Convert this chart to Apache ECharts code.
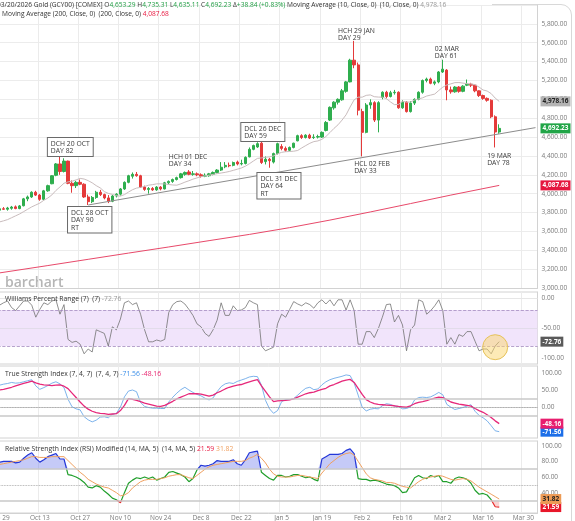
<!DOCTYPE html>
<html>
<head>
<meta charset="utf-8">
<title>Gold (GCY00) daily</title>
<script src="https://cdn.jsdelivr.net/npm/echarts@6/dist/echarts.min.js"></script>
<style>
html, body {margin: 0; padding: 0; background: #fff;}
#chart {width: 575px; height: 521px;}
</style>
</head>
<body>
<div id="chart"></div>
<script>
/* Trading days on the axis (weekdays, the last ones are still empty). */
var dates = [
    '2025-09-29','2025-09-30','2025-10-01','2025-10-02','2025-10-03',
    '2025-10-06','2025-10-07','2025-10-08','2025-10-09','2025-10-10',
    '2025-10-13','2025-10-14','2025-10-15','2025-10-16','2025-10-17',
    '2025-10-20','2025-10-21','2025-10-22','2025-10-23','2025-10-24',
    '2025-10-27','2025-10-28','2025-10-29','2025-10-30','2025-10-31',
    '2025-11-03','2025-11-04','2025-11-05','2025-11-06','2025-11-07',
    '2025-11-10','2025-11-11','2025-11-12','2025-11-13','2025-11-14',
    '2025-11-17','2025-11-18','2025-11-19','2025-11-20','2025-11-21',
    '2025-11-24','2025-11-25','2025-11-26','2025-11-27','2025-11-28',
    '2025-12-01','2025-12-02','2025-12-03','2025-12-04','2025-12-05',
    '2025-12-08','2025-12-09','2025-12-10','2025-12-11','2025-12-12',
    '2025-12-15','2025-12-16','2025-12-17','2025-12-18','2025-12-19',
    '2025-12-22','2025-12-23','2025-12-24','2025-12-25','2025-12-26',
    '2025-12-29','2025-12-30','2025-12-31','2026-01-01','2026-01-02',
    '2026-01-05','2026-01-06','2026-01-07','2026-01-08','2026-01-09',
    '2026-01-12','2026-01-13','2026-01-14','2026-01-15','2026-01-16',
    '2026-01-19','2026-01-20','2026-01-21','2026-01-22','2026-01-23',
    '2026-01-26','2026-01-27','2026-01-28','2026-01-29','2026-01-30',
    '2026-02-02','2026-02-03','2026-02-04','2026-02-05','2026-02-06',
    '2026-02-09','2026-02-10','2026-02-11','2026-02-12','2026-02-13',
    '2026-02-16','2026-02-17','2026-02-18','2026-02-19','2026-02-20',
    '2026-02-23','2026-02-24','2026-02-25','2026-02-26','2026-02-27',
    '2026-03-02','2026-03-03','2026-03-04','2026-03-05','2026-03-06',
    '2026-03-09','2026-03-10','2026-03-11','2026-03-12','2026-03-13',
    '2026-03-16','2026-03-17','2026-03-18','2026-03-19','2026-03-20',
    '2026-03-23','2026-03-24','2026-03-25','2026-03-26','2026-03-27',
    '2026-03-30','2026-03-31','2026-04-01','2026-04-02'
];
var tickDates = ['2025-09-29','2025-10-13','2025-10-27','2025-11-10','2025-11-24','2025-12-08','2025-12-22',
                 '2026-01-05','2026-01-19','2026-02-02','2026-02-16','2026-03-02','2026-03-16','2026-03-30'];

var opens = [
    3825,3840,
    3835,3845,3860,3842,3872,3945,3965,4015,3985,3940,
    4030,4105,4195,4315,4235,4345,4110,4085,4120,4100,
    3965,3915,3960,4015,3990,3955,3920,3975,3995,4050,
    4120,4185,4205,4190,4070,4045,4055,4040,4070,4050,
    4115,4130,4150,4170,4205,4230,4205,4210,4200,4185,
    4190,4205,4225,4250,4285,4300,4300,4335,4315,4320,
    4390,4470,4495,4535,4340,4365,4335,4425,4500,4480,
    4460,4490,4560,4615,4595,4620,4595,4600,4600,4670,
    4780,4910,4970,4995,5085,5185,5415,5365,4870,4650,
    4940,4965,4780,5020,5075,5030,5070,5075,4910,4970,
    4870,4960,5000,5075,5200,5215,5170,5185,5290,5310,
    5100,5080,5130,5085,5150,5160,5150,5090,5040,5010,
    4990,4815,4653.29
];
var highs = [
    3850,3858,
    3860,3870,3875,3880,3955,3980,4025,4030,3995,4040,
    4095,4195,4325,4390,4375,4350,4140,4135,4150,4110,
    3990,3975,4030,4040,4000,3985,3985,4005,4060,4130,
    4200,4225,4230,4200,4085,4070,4070,4080,4080,4125,
    4140,4160,4180,4220,4235,4250,4240,4225,4215,4215,
    4220,4235,4260,4335,4335,4330,4340,4350,4360,4395,
    4490,4520,4545,4555,4395,4380,4435,4540,4525,4500,
    4500,4540,4625,4630,4630,4635,4630,4625,4660,4770,
    4925,4980,5010,5110,5195,5430,5620,5390,4900,4960,
    5000,4980,4980,5085,5090,5090,5100,5085,4990,4980,
    4980,5010,5085,5210,5230,5230,5200,5300,5420,5320,
    5135,5140,5140,5150,5210,5175,5155,5095,5050,5020,
    5000,4830,4735.31
];
var lows = [
    3815,3828,
    3820,3830,3835,3835,3865,3920,3955,3975,3925,3930,
    4020,4100,4185,4200,4225,4100,4010,4060,4090,3955,
    3880,3900,3945,3975,3940,3900,3910,3960,3980,4040,
    4110,4160,4180,4060,4030,4000,4030,4030,4035,4045,
    4100,4115,4140,4160,4190,4195,4190,4185,4170,4175,
    4180,4195,4215,4240,4270,4280,4290,4300,4300,4310,
    4385,4460,4485,4315,4310,4275,4320,4415,4460,4445,
    4450,4480,4555,4580,4585,4580,4580,4585,4590,4660,
    4770,4890,4945,4985,5070,5180,5330,4830,4395,4640,
    4900,4760,4650,5000,5010,5020,5050,4900,4900,4860,
    4860,4940,4990,5060,5180,5160,5150,5170,5280,4990,
    5060,5070,5070,5075,5140,5130,5075,5025,4995,4975,
    4800,4490,4635.11
];
var closes = [
    3840,3835,
    3848,3858,3842,3870,3945,3965,4015,3985,3940,4030,
    4085,4190,4315,4235,4345,4110,4085,4120,4100,3965,
    3915,3960,4015,3990,3955,3920,3975,3995,4050,4120,
    4190,4205,4190,4070,4045,4055,4040,4070,4050,4115,
    4130,4150,4170,4210,4225,4205,4210,4200,4185,4195,
    4210,4225,4250,4280,4300,4295,4330,4315,4320,4385,
    4470,4510,4530,4330,4365,4350,4425,4530,4480,4460,
    4490,4535,4615,4595,4620,4590,4600,4605,4650,4755,
    4915,4970,5000,5090,5185,5415,5365,4885,4650,4940,
    4965,4780,4965,5075,5030,5070,5075,4910,4970,4870,
    4960,5000,5075,5200,5215,5170,5185,5290,5320,5100,
    5080,5130,5085,5140,5160,5150,5090,5040,5010,4990,
    4815,4653.39,4692.23
];
var ma10 = [
    3700,3712,
    3725,3745,3765,3785,3810,3835,3860,3880,3900,3930,
    3954,3987,4034,4071,4111,4125,4132,4146,4162,4155,
    4138,4115,4085,4061,4022,4003,3992,3979,3974,3990,
    4017,4042,4059,4067,4076,4090,4096,4104,4104,4103,
    4097,4092,4090,4104,4122,4137,4154,4167,4180,4188,
    4196,4204,4212,4219,4226,4235,4247,4259,4272,4291,
    4317,4346,4374,4379,4385,4391,4400,4422,4438,4445,
    4447,4450,4458,4485,4510,4534,4552,4559,4576,4606,
    4648,4692,4730,4780,4836,4919,4995,5023,5023,5042,
    5047,5028,5024,5023,5007,4973,4944,4946,4978,4971,
    4971,4993,5004,5016,5035,5045,5056,5094,5129,5152,
    5164,5177,5178,5172,5166,5164,5155,5130,5099,5088,
    5061,5013,4978.16
];
var ma200Dates = ['2025-09-29','2025-10-15','2025-10-29','2025-11-12','2025-11-26','2025-12-10','2025-12-24',
                  '2026-01-07','2026-01-21','2026-02-04','2026-02-18','2026-03-04','2026-03-20'];
var ma200Values = [3160,3238,3304,3370,3435,3502,3568,3640,3720,3806,3895,3985,4087.68];

var williams = [
    -12,-8,
    -5,-16,-21,-13,-5,-5,-12,-32,-19,-8,
    -11,-5,-3,-27,-11,-69,-74,-72,-77,-93,
    -85,-90,-53,-56,-59,-80,-48,-53,-35,-8,
    -5,-11,-8,-27,-53,-73,-73,-70,-72,-69,
    -24,-11,-6,-5,-10,-19,-29,-43,-48,-59,
    -64,-53,-37,-8,-29,-29,-13,-21,-20,-16,
    -4,-8,-11,-80,-88,-85,-82,-43,-27,-32,
    -19,-6,-10,-13,-8,-11,-17,-8,-3,-10,
    -3,-13,-3,-3,-20,-3,-21,-77,-77,-56,
    -56,-66,-51,-32,-11,-10,-40,-29,-45,-88,
    -53,-45,-3,-6,-27,-21,-13,-3,-21,-77,
    -66,-77,-61,-64,-56,-56,-72,-88,-85,-85,
    -93,-80,-72.76
];
var tsi = [
    64,67,
    69,72,70,71,74,77,80,62,52,57,
    63,70,74,68,57,23,1,-5,-8,-28,
    -37,-43,-38,-29,-28,-31,-21,-18,0,30,
    47,50,45,14,2,-1,-3,-3,-4,-4,
    15,29,41,51,58,50,43,37,33,26,
    21,27,45,60,68,71,69,75,79,83,
    88,90,89,64,20,-5,-18,-10,16,22,
    22,25,35,46,55,58,51,53,65,74,
    80,84,87,90,94,92,70,35,0,-11,
    -6,-4,-5,4,10,8,3,2,-5,-4,
    1,21,28,29,28,30,36,43,36,8,
    0,-7,-4,-1,3,7,-12,-24,-31,-40,
    -54,-69,-71.56
];
var tsiSignal = [
    50,52,
    55,58,62,66,69,72,76,71,67,65,
    64,63,64,65,61,54,41,28,15,3,
    -6,-12,-16,-18,-19,-21,-20,-19,-10,5,
    25,23,20,16,12,9,6,3,2,5,
    11,17,24,29,34,39,39,39,38,35,
    32,35,42,47,53,58,61,64,66,70,
    74,77,80,62,46,30,16,18,19,20,
    21,24,29,34,39,42,44,48,52,55,
    62,66,71,76,79,81,72,55,37,22,
    15,10,8,7,6,5,4,2,1,0,
    4,10,14,16,19,23,26,29,28,22,
    15,12,9,7,5,3,-4,-10,-15,-22,
    -30,-40,-48.16
];
var rsi = [
    79,80,
    80,80,78,79,84,88,91,84,79,82,
    86,88,90,83,83,63,62,60,57,53,
    47,46,49,47,42,38,33,31,27,40,
    52,56,59,58,60,58,60,56,58,60,
    66,67,65,63,60,54,58,69,75,74,
    75,77,81,80,80,80,82,77,75,82,
    91,92,93,66,62,58,56,62,62,60,
    61,63,63,61,59,60,57,55,83,86,
    89,89,89,90,94,96,90,58,57,57,
    55,56,55,53,51,50,49,46,40,41,
    50,59,62,59,58,62,60,62,54,54,
    52,58,60,59,57,52,43,38,39,37,
    31,22,21.59
];
var rsiMa = [
    76,77,
    78,79,80,81,82,84,86,86,85,85,
    85,86,86,86,86,81,76,71,66,62,
    57,54,51,49,47,46,43,40,36,37,
    40,46,50,54,56,57,57,57,58,59,
    61,62,63,63,61,59,58,62,66,70,
    73,75,76,77,78,79,80,80,80,81,
    84,86,89,84,78,70,64,61,60,60,
    60,61,62,62,61,60,59,58,65,71,
    77,81,85,88,90,91,88,80,72,64,
    59,57,56,55,53,53,52,50,48,47,
    46,50,54,57,59,60,61,62,61,59,
    57,56,57,58,57,55,51,47,44,41,
    38,35,31.82
];

var FONT   = "'Open Sans', 'Noto Sans', sans-serif";
var MONTHS = ['Jan','Feb','Mar','Apr','May','Jun','Jul','Aug','Sep','Oct','Nov','Dec'];
var GREEN  = '#2fae4e';
var RED    = '#e43a3a';

function fmt2(v)
{
    return v.toLocaleString('en-US', {minimumFractionDigits: 2, maximumFractionDigits: 2});
}

function dateLabel(d)
{
    var p = d.split('-');
    return MONTHS[+p[1] - 1] + ' ' + (+p[2]);
}

function isTick(index, value)
{
    return tickDates.indexOf(value) >= 0;
}

/* Value badge sitting on the right axis. */
function badge(value, bg, fg)
{
    return {
        yAxis: value,
        lineStyle: {color: 'rgba(0,0,0,0)', width: 1},
        label: {
            show: true, position: 'end', distance: 3,
            formatter: fmt2(value),
            backgroundColor: bg, color: fg,
            fontSize: 6.5, fontWeight: 'bold', fontFamily: FONT,
            padding: [2, 2, 1, 2]
        }
    };
}

function refLine(value, color, type, width)
{
    return {yAxis: value, lineStyle: {color: color, type: type, width: width}, label: {show: false}};
}

/* Text note pinned to a date and price, optionally framed. */
function note(index, price, text, boxed)
{
    return {
        coord: [dates[index], price],
        symbol: 'circle', symbolSize: 0,
        label: {
            show: true, position: [0, 0], align: 'left', verticalAlign: 'top',
            formatter: text,
            fontSize: 6.8, lineHeight: 7.5, color: '#3a3a3a', fontFamily: FONT,
            padding: boxed ? [2, 3, 1, 3] : 0,
            borderColor: boxed ? '#6a6a6a' : 'transparent',
            borderWidth: boxed ? 1 : 0,
            backgroundColor: boxed ? '#fff' : 'transparent'
        }
    };
}

function xAxisFor(gridIndex, showLabels)
{
    return {
        type: 'category', gridIndex: gridIndex, data: dates, boundaryGap: true,
        axisLine: {show: true, lineStyle: {color: '#d2d2d2'}},
        axisTick: {show: false},
        axisLabel: {
            show: showLabels, interval: isTick, formatter: dateLabel,
            fontSize: 6.5, color: '#7a7a7a', margin: 2, fontFamily: FONT
        },
        splitLine: {show: true, interval: isTick, lineStyle: {color: '#ebebeb', width: 1}}
    };
}

function yAxisFor(gridIndex, min, max, interval, shown, split)
{
    return {
        type: 'value', gridIndex: gridIndex, position: 'right',
        min: min, max: max, interval: interval,
        axisLine: {show: true, lineStyle: {color: '#d2d2d2'}},
        axisTick: {show: false},
        axisLabel: {
            fontSize: 6.5, color: '#7a7a7a', margin: 4, fontFamily: FONT,
            formatter: function(v) { return shown.indexOf(v) >= 0 ? fmt2(v) : ''; }
        },
        splitLine: {show: split, lineStyle: {color: '#ececec'}}
    };
}

function drawGoldChart(id)
{
    var last      = closes.length - 1;
    var change    = closes[last] - closes[last - 1];
    var changePct = change / closes[last - 1] * 100;

    var candles = opens.map(function(o, i) { return [o, closes[i], lows[i], highs[i]]; });
    var ma200   = ma200Dates.map(function(d, k) { return [d, ma200Values[k]]; });
    var hiBase  = rsi.map(function() { return 70; });
    var hiFill  = rsi.map(function(v) { return Math.max(v, 70) - 70; });
    var loBase  = rsi.map(function(v) { return Math.min(v, 30); });
    var loFill  = rsi.map(function(v) { return 30 - Math.min(v, 30); });

    function richStyle(color, size)
    {
        return {color: color, fontSize: size, fontWeight: 'normal', fontFamily: FONT};
    }
    function richSet(size)
    {
        return {
            t: richStyle('#333', size),
            g: richStyle('#1f9d43', size),
            m: richStyle('#9a9a9a', size),
            r: richStyle('#e8173f', size),
            b: richStyle('#3b8ee8', size),
            p: richStyle('#e8246f', size),
            o: richStyle('#f0a060', size)
        };
    }
    var header1 = '{t|03/20/2026 Gold (GCY00) [COMEX] O}{g|' + fmt2(opens[last]) + '}{t| H}{g|' + fmt2(highs[last]) +
                  '}{t| L}{g|' + fmt2(lows[last]) + '}{t| C}{g|' + fmt2(closes[last]) + '}{t| Δ}{g|+' + fmt2(change) +
                  ' (+' + changePct.toFixed(2) + '%)}{t| Moving Average (10, Close, 0)  (10, Close, 0) }{m|' + fmt2(ma10[last]) + '}';
    var header2 = '{t|Moving Average (200, Close, 0)  (200, Close, 0) }{r|' + fmt2(ma200Values[ma200Values.length - 1]) + '}';
    var wTitle  = '{t|Williams Percent Range (7)  (7) }{m|' + fmt2(williams[last]) + '}';
    var tTitle  = '{t|True Strength Index (7, 4, 7)  (7, 4, 7) }{b|' + fmt2(tsi[last]) + '} {p|' + fmt2(tsiSignal[last]) + '}';
    var rTitle  = '{t|Relative Strength Index (RSI) Modified (14, MA, 5)  (14, MA, 5) }{r|' + fmt2(rsi[last]) + '} {o|' + fmt2(rsiMa[last]) + '}';

    function titleAt(left, top, text, size)
    {
        return {left: left, top: top, text: text, padding: 0,
                textStyle: {rich: richSet(size), fontSize: size, fontWeight: 'normal', fontFamily: FONT}};
    }

    var gridBox = {left: -2.5, right: 37.5, outerBoundsMode: 'none'};
    function gridAt(top, height, framed)
    {
        return Object.assign({top: top, height: height, show: framed, borderColor: '#d2d2d2', borderWidth: 1}, gridBox);
    }

    var frameStyle = {fill: 'none', stroke: '#d8d8d8', lineWidth: 1};
    var chart  = echarts.init(document.getElementById(id));
    var option = {
        animation: false,
        backgroundColor: '#fff',
        title: [
            titleAt(-3, 2, header1, 6.6),
            titleAt(2, 11, header2, 6.6),
            titleAt(5, 296, wTitle, 6.8),
            titleAt(5, 371, tTitle, 6.8),
            titleAt(5, 446, rTitle, 6.8)
        ],
        graphic: [
            {type: 'text', left: 5, top: 276, silent: true,
             style: {text: 'barchart', fill: '#b5b5b5', font: '600 14px ' + FONT}},
            {type: 'polyline', silent: true, z: -1, shape: {points: [[492, 4.5], [561, 4.5]]}, style: frameStyle},
            {type: 'arc', silent: true, z: -1,
             shape: {cx: 561, cy: 15, r: 10.5, startAngle: -Math.PI / 2, endAngle: 0}, style: frameStyle},
            {type: 'polyline', silent: true, z: -1, shape: {points: [[571.5, 15], [571.5, 521]]}, style: frameStyle}
        ],
        grid: [
            gridAt(5, 283, false),
            gridAt(292, 72, true),
            gridAt(366, 72, true),
            gridAt(441, 72, true)
        ],
        xAxis: [xAxisFor(0, false), xAxisFor(1, false), xAxisFor(2, false), xAxisFor(3, true)],
        yAxis: [
            yAxisFor(0, 3000, 6000, 200, [3000,3200,3400,3600,3800,4000,4200,4400,4600,4800,5000,5200,5400,5600,5800], true),
            yAxisFor(1, -110, 10, 10, [0, -50, -100], false),
            yAxisFor(2, -90, 120, 10, [100, 50, 0, -50], false),
            yAxisFor(3, 14, 106, 2, [100, 80, 60, 40, 20], false)
        ],
        visualMap: [{
            type: 'piecewise', show: false, seriesIndex: 10,
            pieces: [
                {gt: 70, color: '#2437d8'},
                {gte: 30, lte: 70, color: '#1f9e2a'},
                {lt: 30, color: '#e62a2a'}
            ]
        }],
        series: [
            {
                name: 'Gold', type: 'candlestick', xAxisIndex: 0, yAxisIndex: 0,
                data: candles, barWidth: 2.8, clip: false,
                itemStyle: {color: GREEN, color0: RED, borderColor: GREEN, borderColor0: RED, borderWidth: 1},
                markLine: {
                    silent: true, symbol: 'none', animation: false,
                    data: [
                        [{coord: [dates[22], 3880], lineStyle: {color: '#8c8c8c', width: 1, type: 'solid'}, label: {show: false}},
                         {coord: [dates[133], 4700]}],
                        badge(closes[last], '#21a547', '#fff')
                    ]
                },
                markPoint: {
                    silent: true, animation: false,
                    data: [
                        note(12, 4590, 'DCH 20 OCT\nDAY 82', true),
                        note(17, 3859, 'DCL 28 OCT\nDAY 90\nRT', true),
                        note(42, 4431, 'HCH 01 DEC\nDAY 34', false),
                        note(60, 4749, 'DCL 26 DEC\nDAY 59', true),
                        note(64, 4219, 'DCL 31 DEC\nDAY 64\nRT', true),
                        note(84, 5767, 'HCH 29 JAN\nDAY 29', false),
                        note(88, 4357, 'HCL 02 FEB\nDAY 33', false),
                        note(108, 5576, '02 MAR\nDAY 61', false),
                        note(121, 4442, '19 MAR\nDAY 78', false)
                    ]
                }
            },
            {
                name: 'MA 10', type: 'line', xAxisIndex: 0, yAxisIndex: 0, data: ma10, clip: false,
                symbol: 'none', lineStyle: {color: '#c9bcbd', width: 1},
                markLine: {silent: true, symbol: 'none', data: [badge(ma10[last], '#b4b4b4', '#222')]}
            },
            {
                name: 'MA 200', type: 'line', xAxisIndex: 0, yAxisIndex: 0, data: ma200, clip: false,
                symbol: 'none', lineStyle: {color: '#e8496a', width: 1},
                markLine: {silent: true, symbol: 'none', data: [badge(ma200Values[ma200Values.length - 1], '#e5173f', '#fff')]}
            },
            {
                name: 'Williams %R', type: 'line', xAxisIndex: 1, yAxisIndex: 1, data: williams, clip: false,
                symbol: 'none', lineStyle: {color: '#727272', width: 0.8},
                markArea: {silent: true, itemStyle: {color: '#f1e4fb'}, data: [[{yAxis: -20}, {yAxis: -80}]]},
                markLine: {
                    silent: true, symbol: 'none',
                    data: [
                        refLine(0, '#e6e6e6', 'solid', 1),
                        refLine(-50, '#e2dcea', 'solid', 1),
                        refLine(-20, '#a48cc0', 'dashed', 0.8),
                        refLine(-80, '#a48cc0', 'dashed', 0.8),
                        badge(williams[last], '#5a5a5a', '#fff')
                    ]
                },
                markPoint: {
                    silent: true,
                    data: [{coord: [dates[123], -82], symbol: 'circle', symbolSize: 25,
                            itemStyle: {color: 'rgba(252,214,110,0.5)', borderColor: '#e6c25a', borderWidth: 1},
                            label: {show: false}}]
                }
            },
            {
                name: 'TSI', type: 'line', xAxisIndex: 2, yAxisIndex: 2, data: tsi, clip: false,
                symbol: 'none', lineStyle: {color: '#5c9fe6', width: 0.8},
                markLine: {
                    silent: true, symbol: 'none',
                    data: [
                        refLine(25, '#c8c8c8', 'solid', 1.5),
                        refLine(-25, '#c8c8c8', 'solid', 1.5),
                        refLine(0, '#9a9a9a', 'dotted', 0.8),
                        badge(tsi[last], '#1d6fe8', '#fff')
                    ]
                }
            },
            {
                name: 'TSI signal', type: 'line', xAxisIndex: 2, yAxisIndex: 2, data: tsiSignal, clip: false,
                symbol: 'none', lineStyle: {color: '#e6287a', width: 1.3},
                markLine: {silent: true, symbol: 'none', data: [badge(tsiSignal[last], '#e81e6e', '#fff')]}
            },
            {
                type: 'line', xAxisIndex: 3, yAxisIndex: 3, data: hiBase, stack: 'hi',
                symbol: 'none', lineStyle: {opacity: 0}, silent: true
            },
            {
                type: 'line', xAxisIndex: 3, yAxisIndex: 3, data: hiFill, stack: 'hi',
                symbol: 'none', lineStyle: {opacity: 0}, silent: true,
                areaStyle: {color: 'rgba(92,104,232,0.5)'}
            },
            {
                type: 'line', xAxisIndex: 3, yAxisIndex: 3, data: loBase, stack: 'lo',
                symbol: 'none', lineStyle: {opacity: 0}, silent: true
            },
            {
                type: 'line', xAxisIndex: 3, yAxisIndex: 3, data: loFill, stack: 'lo',
                symbol: 'none', lineStyle: {opacity: 0}, silent: true,
                areaStyle: {color: 'rgba(236,70,70,0.35)'}
            },
            {
                name: 'RSI', type: 'line', xAxisIndex: 3, yAxisIndex: 3, data: rsi, clip: false,
                symbol: 'none', lineStyle: {width: 1.2},
                markLine: {
                    silent: true, symbol: 'none',
                    data: [
                        refLine(70, '#c8c8c8', 'solid', 1.5),
                        refLine(30, '#c8c8c8', 'solid', 1.5),
                        refLine(50, '#9a9a9a', 'dotted', 0.8),
                        badge(rsi[last], '#e8172a', '#fff')
                    ]
                }
            },
            {
                name: 'RSI MA', type: 'line', xAxisIndex: 3, yAxisIndex: 3, data: rsiMa, clip: false,
                symbol: 'none', lineStyle: {color: '#f0a060', width: 1},
                markLine: {silent: true, symbol: 'none', data: [badge(rsiMa[last], '#ec9a55', '#222')]}
            }
        ]
    };
    chart.setOption(option);

    return chart;
}

drawGoldChart('chart');
</script>
</body>
</html>
